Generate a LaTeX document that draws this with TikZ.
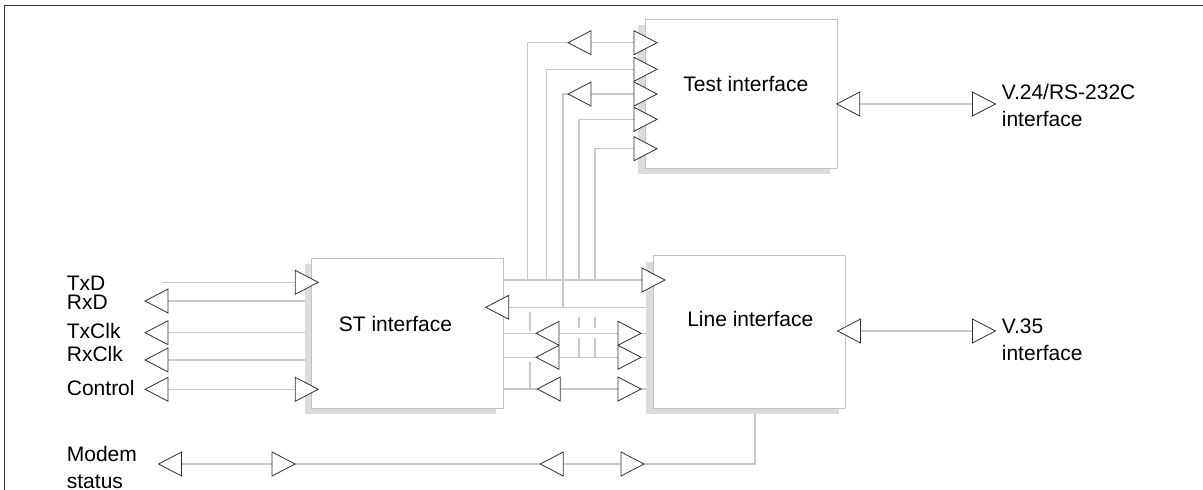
\documentclass[tikz,border=0pt]{standalone}
\usepackage{fontspec}
\setmainfont{Liberation Sans}
\usetikzlibrary{shapes.geometric,shadows}
\pgfdeclarelayer{bg}
\pgfsetlayers{bg,main}
\definecolor{wire}{HTML}{C8C8C8}
\definecolor{shd}{HTML}{DCDCDC}
\definecolor{boxline}{HTML}{C2C2C2}
\definecolor{triline}{HTML}{303030}
\definecolor{framec}{HTML}{303030}
\begin{document}
\begin{tikzpicture}[x=1pt,y=-1pt,
  blk/.style={draw=boxline,line width=0.9pt,fill=white,inner sep=0pt,
    drop shadow={shadow xshift=-7pt,shadow yshift=-6pt,fill=shd,opacity=1,draw=none}},
  rt/.style={isosceles triangle,isosceles triangle stretches,minimum width=24pt,
    minimum height=23pt,inner sep=0pt,draw=triline,line width=0.8pt,fill=white,
    shape border rotate=0},
  lt/.style={rt,shape border rotate=180},
  wire/.style={draw=wire,line width=1.3pt},
  lbl/.style={font=\fontsize{21}{26}\selectfont,inner sep=0pt,text=black},
  frame/.style={draw=framec,line width=1.4pt}
]
\useasboundingbox (0,0) rectangle (1203,490);
\draw[frame] (4.5,490) -- (4.5,5.5) -- (1203,5.5);

% blocks
\node[blk,minimum width=192pt,minimum height=149pt] (test) at (741,93.5) {};
\node[blk,minimum width=191.6pt,minimum height=150pt] (st) at (407.5,333.3) {};
\node[blk,minimum width=192.4pt,minimum height=152.6pt] (line) at (749.5,332) {};

% block texts
\node[lbl,anchor=base] (testtxt) at (745.8,91.7) {Test interface};
\node[lbl,anchor=base] (sttxt) at (395.5,331) {ST interface};
\node[lbl,anchor=base] (linetxt) at (750.3,326) {Line interface};

% left labels
\node[lbl,anchor=base west] (ltxd) at (66.7,290) {TxD};
\node[lbl,anchor=base west] (lrxd) at (66.7,309.5) {RxD};
\node[lbl,anchor=base west] (ltxclk) at (66.7,338) {TxClk};
\node[lbl,anchor=base west] (lrxclk) at (66.7,361) {RxClk};
\node[lbl,anchor=base west] (lctrl) at (66.7,395.3) {Control};
\node[lbl,anchor=base west] (lmodem) at (66.7,461.7) {Modem};
\node[lbl,anchor=base west] (lstatus) at (66.7,488) {status};
\node[lbl,anchor=base west] (lv24a) at (1001.7,99.3) {V.24/RS-232C};
\node[lbl,anchor=base west] (lv24b) at (1001.7,126) {interface};
\node[lbl,anchor=base west] (lv35a) at (1001.7,333.3) {V.35};
\node[lbl,anchor=base west] (lv35b) at (1001.7,360.5) {interface};

% ST left side
\coordinate (txdsrc) at (161.7,282.3);
\node[rt] (txdin) at (302.5,282.3) {};
\node[lt] (rxdout) at (160.8,301) {};
\node[lt] (txclkout) at (160.8,332.7) {};
\node[lt] (rxclkout) at (160.8,360) {};
\node[lt] (ctrlout) at (160.8,389.3) {};
\node[rt] (ctrlin) at (302.5,389.3) {};

% middle between ST and Line
\node[rt] (m1) at (649.2,280) {};
\node[lt] (m2) at (501.5,307.3) {};
\node[lt] (m3l) at (551.8,333.3) {};
\node[rt] (m3r) at (625.3,333.3) {};
\node[lt] (m4l) at (551.8,357.3) {};
\node[rt] (m4r) at (625.3,357.3) {};
\node[lt] (m5l) at (553,389) {};
\node[rt] (m5r) at (625.3,389) {};

% Test interface left
\node[rt] (t1r) at (641.3,42.7) {};
\node[lt] (t1l) at (583.8,42.7) {};
\node[rt] (t2r) at (641.3,69.3) {};
\node[rt] (t3r) at (641.3,94) {};
\node[lt] (t3l) at (583.8,94) {};
\node[rt] (t4r) at (641.3,119.3) {};
\node[rt] (t5r) at (641.3,148.7) {};
\coordinate (c1) at (527.8,42.7);
\coordinate (c2) at (546.5,69.3);
\coordinate (c3) at (563,94);
\coordinate (c4) at (579,119.3);
\coordinate (c5) at (595,148.7);

% right side
\node[lt] (v24l) at (852.5,104) {};
\node[rt] (v24r) at (979.7,104) {};
\node[lt] (v35l) at (853.3,331) {};
\node[rt] (v35r) at (979.7,331) {};

% modem status
\node[lt] (ms1) at (174.3,464) {};
\node[rt] (ms2) at (279.3,464) {};
\node[lt] (ms3) at (556,464) {};
\node[rt] (ms4) at (628.3,464) {};
\coordinate (mscorner) at (755,464);

% junction stubs
\coordinate (j1) at (530,312);
\coordinate (j2) at (530,331);
\coordinate (j3) at (530,362);
\coordinate (j4) at (530,388);
\coordinate (j5) at (579,317);
\coordinate (j6) at (579,328);
\coordinate (j7) at (579,338);
\coordinate (j8) at (579,357);
\coordinate (j9) at (595,317);
\coordinate (j10) at (595,328);
\coordinate (j11) at (595,338);
\coordinate (j12) at (595,357);

\begin{pgfonlayer}{bg}
  \draw[wire] (txdsrc) -- (txdin);
  \draw[wire] (rxdout) -- (rxdout -| st.west);
  \draw[wire] (txclkout) -- (txclkout -| st.west);
  \draw[wire] (rxclkout) -- (rxclkout -| st.west);
  \draw[wire] (ctrlout) -- (ctrlin);
  \draw[wire] (st.east |- m1) -- (m1);
  \draw[wire] (m2) -- (m2 -| line.west);
  \draw[wire] (st.east |- m3l) -- (m3l -| line.west);
  \draw[wire] (st.east |- m4l) -- (m4l -| line.west);
  \draw[wire] (st.east |- m5l) -- (m5l -| line.west);
  \draw[wire] (t1r) -- (c1) -- (c1 |- m1);
  \draw[wire] (t2r) -- (c2) -- (c2 |- m1);
  \draw[wire] (t3r) -- (c3) -- (c3 |- m1) -- (c3 |- m2);
  \draw[wire] (t4r) -- (c4) -- (c4 |- m1);
  \draw[wire] (t5r) -- (c5) -- (c5 |- m1);
  \draw[wire] (j1) -- (j2);
  \draw[wire] (j3) -- (j4);
  \draw[wire] (j5) -- (j6);
  \draw[wire] (j7) -- (j8);
  \draw[wire] (j9) -- (j10);
  \draw[wire] (j11) -- (j12);
  \draw[wire] (v24l) -- (v24r);
  \draw[wire] (v35l) -- (v35r);
  \draw[wire] (ms1) -- (mscorner) -- (mscorner |- line.south);
\end{pgfonlayer}
\end{tikzpicture}
\end{document}
